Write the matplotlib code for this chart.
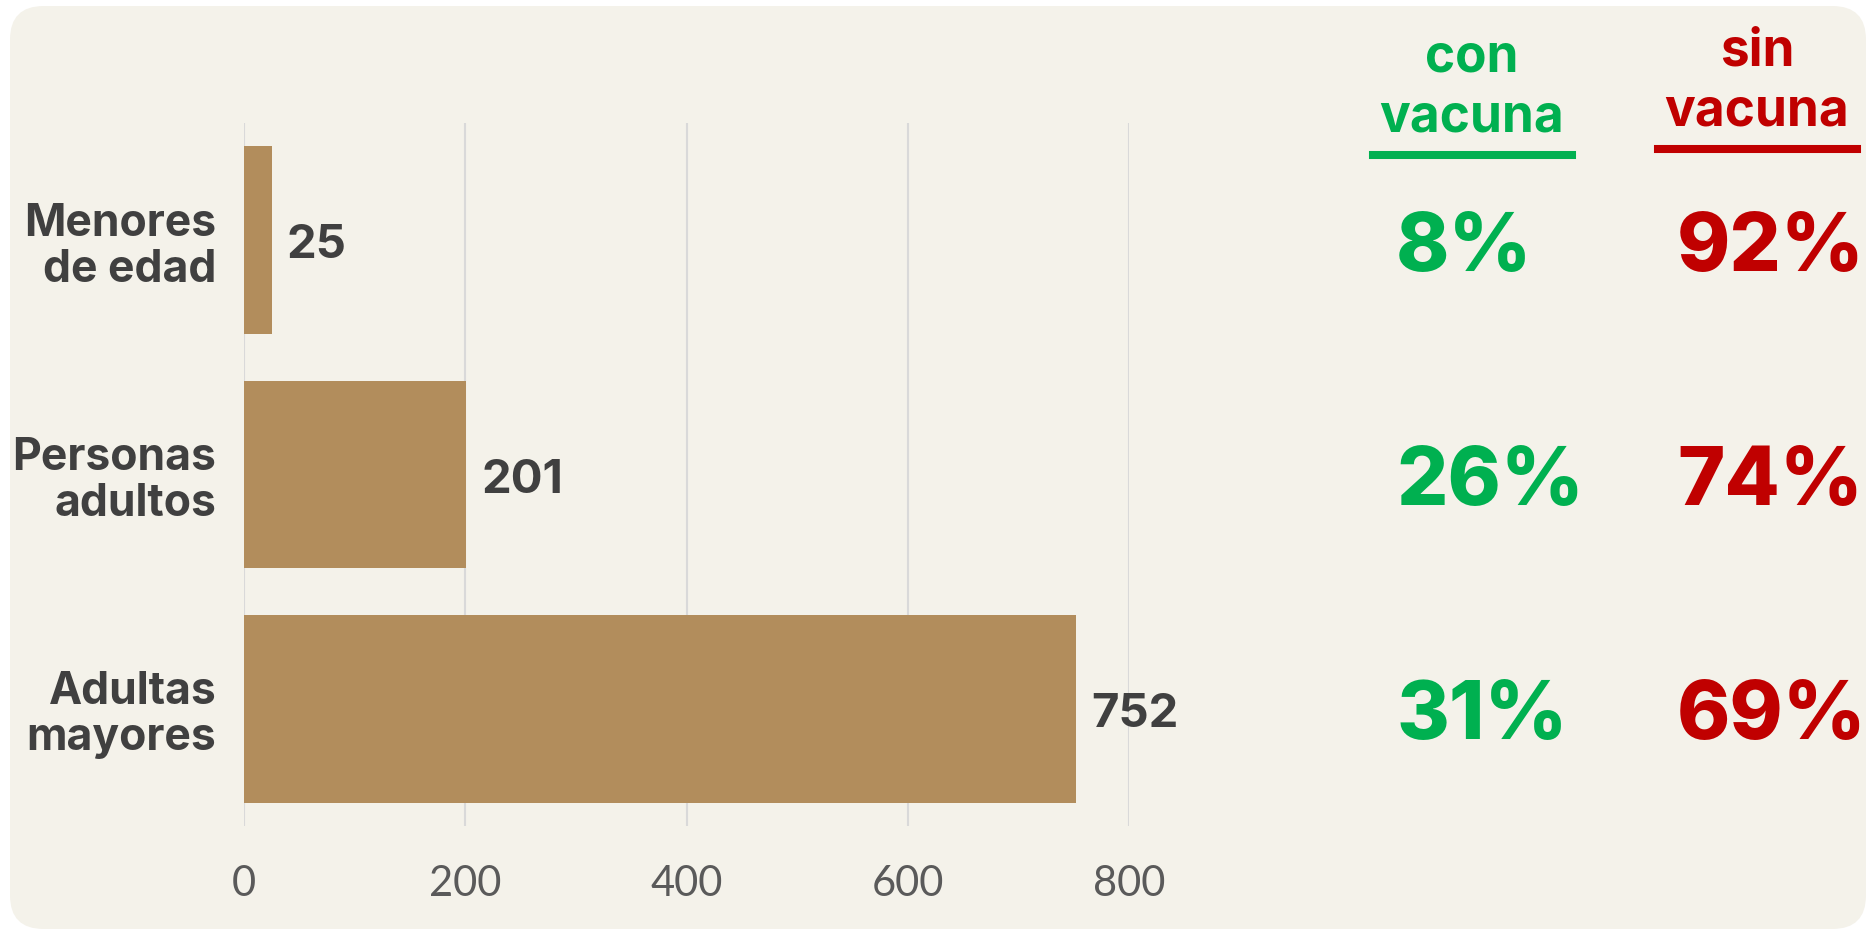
import matplotlib.pyplot as plt
from matplotlib.patches import FancyBboxPatch
from matplotlib.lines import Line2D
import matplotlib.transforms as mtransforms

# data
categorias = ['Menores\nde edad', 'Personas\nadultos', 'Adultas\nmayores']
casos = [25, 201, 752]
con_vacuna = [8, 26, 31]
sin_vacuna = [92, 74, 69]
ticks = [0, 200, 400, 600, 800]

fondo = '#F4F2EA'
cafe = '#B28D5C'
gris_txt = '#404040'
verde = '#00B050'
rojo = '#C00000'
FONT = ['Inter', 'DejaVu Sans']

fig = plt.figure(figsize=(18.68, 9.36), dpi=100, facecolor='white')

# tarjeta de fondo redondeada
card = FancyBboxPatch((10/1868, 7/936), 1856/1868, 923/936,
                      boxstyle='round,pad=0,rounding_size=0.018',
                      transform=fig.transFigure, facecolor=fondo, edgecolor='none',
                      mutation_aspect=1868/936, zorder=-5)
fig.patches.append(card)

ax = fig.add_axes([244/1868, 1-826/936, 885/1868, 703/936])
ax.set_facecolor('none')
ypos = list(range(len(categorias)))
bars = ax.barh(ypos, casos, height=0.8, color=cafe, zorder=3)
ax.set_ylim(2.5, -0.5)
ax.set_xlim(0, 800)
ax.set_xticks(ticks)
ax.set_yticks(ypos)
ax.set_yticklabels(categorias, fontsize=32, fontweight='bold', color=gris_txt,
                   family=FONT, ha='right', multialignment='right', linespacing=1.12)
for lbl in ax.get_xticklabels():
    lbl.set_fontsize(30)
    lbl.set_color('#5A5A5A')
    lbl.set_family(['Lato', 'DejaVu Sans'])
    lbl.set_fontweight('normal')
ax.tick_params(axis='x', length=0, pad=28)
ax.tick_params(axis='y', length=0, pad=20)
ax.grid(axis='x', color='#D9D9D9', linewidth=1.5, zorder=0)
ax.set_axisbelow(True)
for s in ax.spines.values():
    s.set_visible(False)

# etiquetas de valor
off_val = mtransforms.ScaledTranslation(11/72, -13/72, fig.dpi_scale_trans)
for i, v in enumerate(casos):
    ax.text(v, i, str(v), transform=ax.transData + off_val, ha='left', va='baseline',
            fontsize=34, fontweight='bold', color=gris_txt, family=FONT)

# encabezados
fig.text(1472/1868, 1-132/936, 'con\nvacuna', ha='center', va='baseline',
         fontsize=37, fontweight='bold', color=verde, family=FONT, linespacing=1.3)
fig.text(1757/1868, 1-126/936, 'sin\nvacuna', ha='center', va='baseline',
         fontsize=37, fontweight='bold', color=rojo, family=FONT, linespacing=1.3)
fig.add_artist(Line2D([1373/1868, 1572/1868], [1-155/936, 1-155/936],
                      transform=fig.transFigure, color=verde, linewidth=5.8))
fig.add_artist(Line2D([1658/1868, 1857/1868], [1-149/936, 1-149/936],
                      transform=fig.transFigure, color=rojo, linewidth=5.8))

# porcentajes
trans = mtransforms.blended_transform_factory(fig.transFigure, ax.transData)
off_pct = mtransforms.ScaledTranslation(0, -22/72, fig.dpi_scale_trans)
for i in ypos:
    ax.text(1396/1868, i, f'{con_vacuna[i]}%', transform=trans + off_pct, ha='left',
            va='baseline', fontsize=58, fontweight='heavy', color=verde, family=FONT)
    ax.text(1677/1868, i, f'{sin_vacuna[i]}%', transform=trans + off_pct, ha='left',
            va='baseline', fontsize=58, fontweight='heavy', color=rojo, family=FONT)

fig.savefig('out.png', dpi=100, facecolor=fig.get_facecolor())
